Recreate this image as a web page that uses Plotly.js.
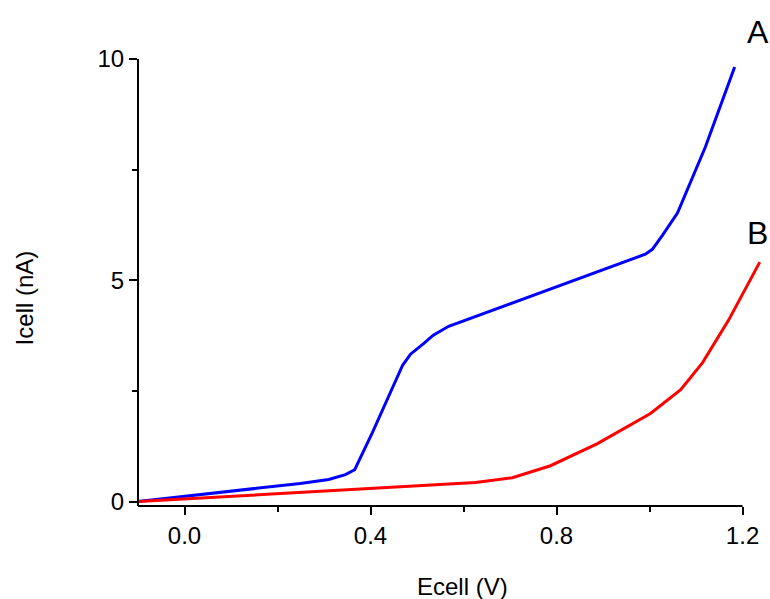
<!DOCTYPE html>
<html>
<head>
<meta charset="utf-8">
<script src="https://cdn.plot.ly/plotly-3.0.1.min.js"></script>
<style>html,body{margin:0;padding:0;background:#fff;}#chart{width:770px;height:599px;}</style>
</head>
<body>
<div id="chart"></div>
<script>
// Curve A (blue)
const curveA_x = [-0.1, 0.249, 0.310, 0.346, 0.366, 0.385, 0.404, 0.469, 0.486, 0.514, 0.535, 0.568, 0.991, 1.006, 1.028, 1.060, 1.120, 1.183];
const curveA_y = [0.0, 0.41, 0.50, 0.61, 0.72, 1.15, 1.56, 3.08, 3.33, 3.57, 3.76, 3.96, 5.59, 5.70, 6.02, 6.52, 8.01, 9.82];
// Curve B (red)
const curveB_x = [-0.1, 0.626, 0.705, 0.787, 0.888, 1.002, 1.067, 1.114, 1.170, 1.237];
const curveB_y = [0.0, 0.43, 0.54, 0.81, 1.31, 1.99, 2.53, 3.14, 4.10, 5.41];
const curveNames = ["A", "B"];
const xTicks = [0.0, 0.4, 0.8, 1.2];
const xTickText = ["0.0", "0.4", "0.8", "1.2"];
const yTicks = [0, 5, 10];
const yTickText = ["0", "5", "10"];
const xTitle = "Ecell (V)";
const yTitle = "Icell (nA)";

const font = "Arial, 'Liberation Sans', sans-serif";

const traces = [
  {x: curveA_x, y: curveA_y, mode: "lines", name: curveNames[0], line: {color: "#0000FF", width: 3}},
  {x: curveB_x, y: curveB_y, mode: "lines", name: curveNames[1], line: {color: "#FF0000", width: 3}}
];

const layout = {
  width: 770, height: 599,
  margin: {l: 138, r: 0, t: 59, b: 93},
  paper_bgcolor: "#fff", plot_bgcolor: "#fff",
  showlegend: false,
  font: {family: font, size: 24, color: "#000"},
  xaxis: {
    range: [-0.1, 1.259], showgrid: false, zeroline: false, showline: false,
    tickmode: "array", tickvals: xTicks, ticktext: xTickText,
    ticks: "outside", ticklen: 8, tickwidth: 2, tickcolor: "#000",
    tickfont: {family: font, size: 24},
    minor: {dtick: 0.2, tick0: 0, ticks: "outside", ticklen: 5, tickwidth: 2, tickcolor: "#000", showgrid: false}
  },
  yaxis: {
    range: [-0.1, 10], showgrid: false, zeroline: false, showline: false,
    tickmode: "array", tickvals: yTicks, ticktext: yTickText,
    ticks: "outside", ticklen: 8, tickwidth: 2, tickcolor: "#000",
    tickfont: {family: font, size: 24},
    minor: {dtick: 2.5, tick0: 0, ticks: "outside", ticklen: 5, tickwidth: 2, tickcolor: "#000", showgrid: false}
  },
  shapes: [
    {type: "line", xref: "x", yref: "paper", x0: -0.1, x1: 1.2, y0: 0, y1: 0, line: {color: "#000", width: 2}},
    {type: "line", xref: "paper", yref: "y", x0: 0, x1: 0, y0: -0.1, y1: 10, line: {color: "#000", width: 2}}
  ],
  annotations: [
    {xref: "paper", yref: "paper", x: 0.513, y: -0.179, text: xTitle, showarrow: false, xanchor: "center", yanchor: "middle", font: {family: font, size: 24}},
    {xref: "paper", yref: "paper", x: -0.180, y: 0.465, text: yTitle, showarrow: false, textangle: -90, xanchor: "center", yanchor: "middle", font: {family: font, size: 24}},
    {xref: "paper", yref: "paper", x: 0.981, y: 1.060, text: curveNames[0], showarrow: false, xanchor: "center", yanchor: "middle", font: {family: font, size: 32}},
    {xref: "paper", yref: "paper", x: 0.981, y: 0.611, text: curveNames[1], showarrow: false, xanchor: "center", yanchor: "middle", font: {family: font, size: 32}}
  ]
};

Plotly.newPlot("chart", traces, layout, {displayModeBar: false, staticPlot: true});
</script>
</body>
</html>
